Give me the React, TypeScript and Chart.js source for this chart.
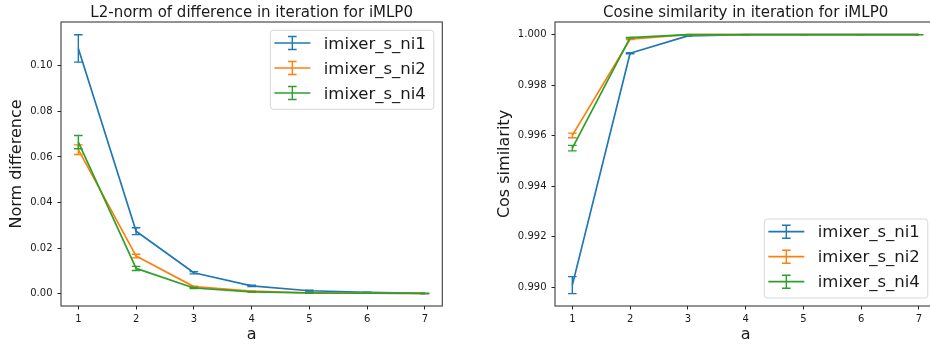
import React, { useEffect, useRef } from "react";
import { Chart, registerables } from "chart.js";

Chart.register(...registerables);
Chart.defaults.font.family = "'DejaVu Sans', sans-serif";

// ---------- data ----------
const iterations = [1, 2, 3, 4, 5, 6, 7];
const seriesNames = ["imixer_s_ni1", "imixer_s_ni2", "imixer_s_ni4"];
const seriesColors = ["#1f77b4", "#ff7f0e", "#2ca02c"];

const normNi1 = [0.1076, 0.0274, 0.0092, 0.0034, 0.0013, 0.0006, 0.0001];
const normNi1Err = [0.006, 0.0015, 0.0005, 0.0003, 0.0002, 0.0001, 0.00005];
const normNi2 = [0.0632, 0.0165, 0.0031, 0.0011, 0.0004, 0.0002, 0.0001];
const normNi2Err = [0.0021, 0.0008, 0.0002, 0.0001, 0.0001, 0.00005, 0.00005];
const normNi4 = [0.0665, 0.0111, 0.0025, 0.0008, 0.0003, 0.0002, 0.0001];
const normNi4Err = [0.0029, 0.0009, 0.0002, 0.0001, 0.0001, 0.00005, 0.00005];

const cosNi1 = [0.990087, 0.999264, 0.99995, 1.0, 1.0, 1.0, 1.0];
const cosNi1Err = [0.000336, 0.00002, 0.000005, 0.000002, 0.000001, 0.000001, 0.000001];
const cosNi2 = [0.996011, 0.999818, 1.0, 1.0, 1.0, 1.0, 1.0];
const cosNi2Err = [0.00009, 0.00001, 0.000002, 0.000001, 0.000001, 0.000001, 0.000001];
const cosNi4 = [0.995508, 0.999881, 1.0, 1.0, 1.0, 1.0, 1.0];
const cosNi4Err = [0.00011, 0.00001, 0.000002, 0.000001, 0.000001, 0.000001, 0.000001];

const xTicks = [1, 2, 3, 4, 5, 6, 7];
const normTicks = [0.0, 0.02, 0.04, 0.06, 0.08, 0.1];
const cosTicks = [0.99, 0.992, 0.994, 0.996, 0.998, 1.0];

const leftTitle = "L2-norm of difference in iteration for iMLP0";
const rightTitle = "Cosine similarity in iteration for iMLP0";
const leftYLabel = "Norm difference";
const rightYLabel = "Cos similarity";
const xLabel = "a";

// ---------- chart helper ----------
type Spec = {
  title: string;
  yLabel: string;
  values: number[][];
  errors: number[][];
  yTicks: number[];
  yMin: number;
  yMax: number;
  decimals: number;
  yWidth: number;
  yTitlePad: number;
  padRight: number;
  legendPos: "upper right" | "lower right";
};

const TEXT = "#1a1a1a";
const FRAME = "#3a3a3a";
const LINE_W = 1.7;

function buildChart(canvas: HTMLCanvasElement, spec: Spec) {
  const datasets = spec.values.map((vals, i) => ({
    label: seriesNames[i],
    data: iterations.map((x, j) => ({ x, y: vals[j] })),
    errors: spec.errors[i],
    borderColor: seriesColors[i],
    backgroundColor: seriesColors[i],
    borderWidth: LINE_W,
    pointRadius: 0,
    pointHoverRadius: 0,
    tension: 0,
    fill: false,
    borderJoinStyle: "round",
    order: 3 - i,
  }));

  const errorBars = {
    id: "errorBars",
    afterDatasetDraw(chart: any, args: any) {
      const ds = chart.data.datasets[args.index];
      const errs = ds.errors as number[];
      if (!errs) return;
      const xs = chart.scales.x;
      const ys = chart.scales.y;
      const ctx = chart.ctx;
      const cap = 4.3;
      ctx.save();
      ctx.strokeStyle = ds.borderColor;
      ctx.lineWidth = 1.4;
      ds.data.forEach((p: any, i: number) => {
        const e = errs[i];
        const px = xs.getPixelForValue(p.x);
        const t = ys.getPixelForValue(p.y + e);
        const b = ys.getPixelForValue(p.y - e);
        ctx.beginPath();
        ctx.moveTo(px, t);
        ctx.lineTo(px, b);
        ctx.moveTo(px - cap, t);
        ctx.lineTo(px + cap, t);
        ctx.moveTo(px - cap, b);
        ctx.lineTo(px + cap, b);
        ctx.stroke();
      });
      ctx.restore();
    },
  };

  const decor = {
    id: "decor",
    afterDraw(chart: any) {
      const ctx = chart.ctx;
      const a = chart.chartArea;
      ctx.save();
      // frame
      ctx.strokeStyle = FRAME;
      ctx.lineWidth = 1.1;
      ctx.strokeRect(a.left, a.top, a.right - a.left, a.bottom - a.top);
      // title
      ctx.fillStyle = TEXT;
      ctx.font = "15px 'DejaVu Sans'";
      ctx.textAlign = "center";
      ctx.textBaseline = "alphabetic";
      ctx.fillText(spec.title, (a.left + a.right) / 2, 16.5);
      // legend
      ctx.font = "16.5px 'DejaVu Sans'";
      const textW = Math.max(...seriesNames.map((n) => ctx.measureText(n).width));
      const boxW = 53.4 + textW + 8;
      const boxH = 79;
      const boxX = a.right - 8.5 - boxW;
      const boxY = spec.legendPos === "upper right" ? a.top + 8.3 : a.bottom - 8 - boxH;
      const r = 3;
      ctx.beginPath();
      ctx.moveTo(boxX + r, boxY);
      ctx.arcTo(boxX + boxW, boxY, boxX + boxW, boxY + boxH, r);
      ctx.arcTo(boxX + boxW, boxY + boxH, boxX, boxY + boxH, r);
      ctx.arcTo(boxX, boxY + boxH, boxX, boxY, r);
      ctx.arcTo(boxX, boxY, boxX + boxW, boxY, r);
      ctx.closePath();
      ctx.fillStyle = "rgba(255,255,255,0.8)";
      ctx.fill();
      ctx.strokeStyle = "#d6d6d6";
      ctx.lineWidth = 1;
      ctx.stroke();
      seriesNames.forEach((name, i) => {
        const cy = boxY + 12.7 + i * 25;
        const x0 = boxX + 4;
        const x1 = x0 + 36;
        const cx = (x0 + x1) / 2;
        ctx.strokeStyle = seriesColors[i];
        ctx.lineWidth = LINE_W;
        ctx.beginPath();
        ctx.moveTo(x0, cy);
        ctx.lineTo(x1, cy);
        ctx.stroke();
        ctx.lineWidth = 1.4;
        ctx.beginPath();
        ctx.moveTo(cx, cy - 6.5);
        ctx.lineTo(cx, cy + 6.5);
        ctx.moveTo(cx - 4.3, cy - 6.5);
        ctx.lineTo(cx + 4.3, cy - 6.5);
        ctx.moveTo(cx - 4.3, cy + 6.5);
        ctx.lineTo(cx + 4.3, cy + 6.5);
        ctx.stroke();
        ctx.fillStyle = TEXT;
        ctx.textAlign = "left";
        ctx.textBaseline = "alphabetic";
        ctx.fillText(name, boxX + 53.4, cy + 5.6);
      });
      ctx.restore();
    },
  };

  return new Chart(canvas, {
    type: "line",
    data: { datasets: datasets as any },
    plugins: [errorBars, decor],
    options: {
      animation: false,
      responsive: false,
      events: [],
      layout: { padding: { top: 22, right: spec.padRight, bottom: 0, left: 0 } },
      plugins: {
        legend: { display: false },
        title: { display: false },
        tooltip: { enabled: false },
      },
      scales: {
        x: {
          type: "linear",
          min: 0.7,
          max: 7.3,
          afterBuildTicks: (scale: any) => {
            scale.ticks = xTicks.map((v) => ({ value: v }));
          },
          afterFit: (scale: any) => {
            scale.height = 39;
          },
          grid: {
            display: true,
            drawOnChartArea: false,
            drawTicks: true,
            tickLength: 3.5,
            color: "#222",
            lineWidth: 1,
          },
          border: { display: false },
          ticks: {
            autoSkip: false,
            maxRotation: 0,
            padding: 4,
            color: TEXT,
            font: { size: 10 },
            callback: (v: any) => String(v),
          },
          title: {
            display: true,
            text: xLabel,
            color: TEXT,
            font: { size: 16 },
            padding: { top: 0, bottom: 1 },
          },
        },
        y: {
          type: "linear",
          min: spec.yMin,
          max: spec.yMax,
          afterBuildTicks: (scale: any) => {
            scale.ticks = spec.yTicks.map((v) => ({ value: v }));
          },
          afterFit: (scale: any) => {
            scale.width = spec.yWidth;
          },
          grid: {
            display: true,
            drawOnChartArea: false,
            drawTicks: true,
            tickLength: 3.5,
            color: "#222",
            lineWidth: 1,
          },
          border: { display: false },
          ticks: {
            autoSkip: false,
            padding: 5,
            color: TEXT,
            font: { size: 10 },
            callback: (v: any) => Number(v).toFixed(spec.decimals),
          },
          title: {
            display: true,
            text: spec.yLabel,
            color: TEXT,
            font: { size: 16 },
            padding: { top: spec.yTitlePad, bottom: 0 },
          },
        },
      },
    } as any,
  });
}

export default function App() {
  const leftRef = useRef<HTMLCanvasElement>(null);
  const rightRef = useRef<HTMLCanvasElement>(null);

  useEffect(() => {
    const c1 = buildChart(leftRef.current!, {
      title: leftTitle,
      yLabel: leftYLabel,
      values: [normNi1, normNi2, normNi4],
      errors: [normNi1Err, normNi2Err, normNi4Err],
      yTicks: normTicks,
      yMin: -0.0054,
      yMax: 0.1192,
      decimals: 2,
      yWidth: 61,
      yTitlePad: 7.4,
      padRight: 22.7,
      legendPos: "upper right",
    });
    const c2 = buildChart(rightRef.current!, {
      title: rightTitle,
      yLabel: rightYLabel,
      values: [cosNi1, cosNi2, cosNi4],
      errors: [cosNi1Err, cosNi2Err, cosNi4Err],
      yTicks: cosTicks,
      yMin: 0.98926,
      yMax: 1.0005,
      decimals: 3,
      yWidth: 90,
      yTitlePad: 29.8,
      padRight: 8.7,
      legendPos: "lower right",
    });
    return () => {
      c1.destroy();
      c2.destroy();
    };
  }, []);

  return (
    <div
      style={{
        position: "absolute",
        left: 0,
        top: 0,
        width: 930,
        height: 345,
        overflow: "hidden",
        background: "#fff",
      }}
    >
      <canvas
        ref={leftRef}
        width={465}
        height={345}
        style={{ position: "absolute", left: 0, top: 0, display: "block" }}
      />
      <canvas
        ref={rightRef}
        width={480}
        height={345}
        style={{ position: "absolute", left: 465, top: 0, display: "block" }}
      />
    </div>
  );
}
